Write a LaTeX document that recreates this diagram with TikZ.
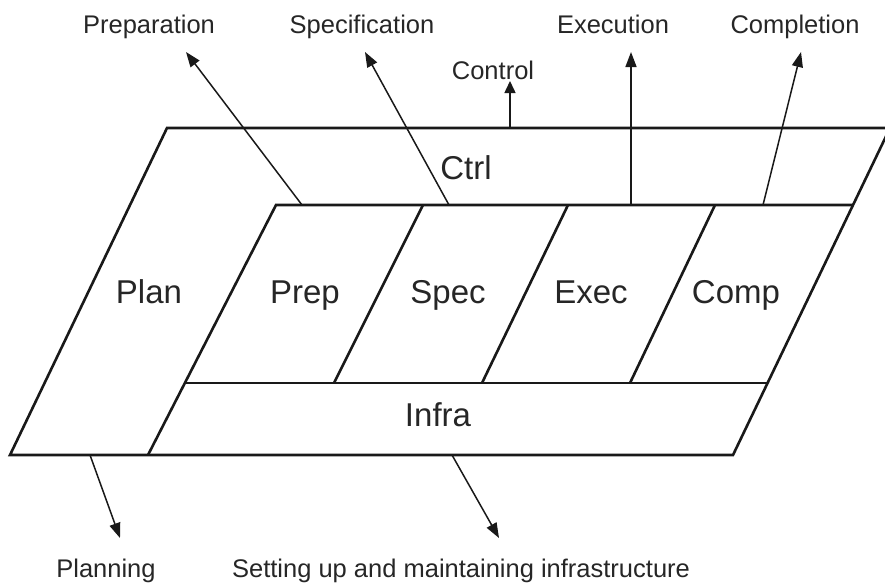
\documentclass[tikz,border=0pt]{standalone}
\usepackage{fontspec}
\setmainfont{Liberation Sans}
\usetikzlibrary{arrows.meta}
\begin{document}
\begin{tikzpicture}[x=1pt,y=-1pt,
  box/.style={line width=2.6pt, draw=black!90, line join=miter},
  lbl/.style={font=\fontsize{25.5}{28}\selectfont, text=black!85, inner sep=0pt, anchor=base},
  big/.style={font=\fontsize{33}{36}\selectfont, text=black!85, inner sep=0pt, anchor=base},
  conn/.style={line width=1.5pt, draw=black!90, -{Triangle[length=15pt,width=11pt]}},
  connsmall/.style={line width=1.5pt, draw=black!90, -{Triangle[length=12pt,width=11pt]}}]
\useasboundingbox (0,0) rectangle (885,584);
\begin{scope}
\clip (0,0) rectangle (885,584);
% outer parallelogram
\draw[box] (10,455) -- (167,128) -- (890,128) -- (733,455) -- cycle;
% inner top edge and plan boundary
\draw[box] (148,455) -- (276,205) -- (853,205);
% infra top edge
\draw[box] (185,383) -- (767,383);
% dividers
\draw[box] (423,205) -- (334,383);
\draw[box] (568,205) -- (482,383);
\draw[box] (715,205) -- (630,383);
\end{scope}

% region labels
\node[big] (ctrl) at (466,179) {Ctrl};
\node[big] (plan) at (149,303) {Plan};
\node[big] (prep) at (305,303) {Prep};
\node[big] (spec) at (448,303) {Spec};
\node[big] (exec) at (591,303) {Exec};
\node[big] (comp) at (736,303) {Comp};
\node[big] (infra) at (438,426) {Infra};

% outer labels
\node[lbl] (preparation) at (149,33) {Preparation};
\node[lbl] (specification) at (362,33) {Specification};
\node[lbl] (execution) at (613,33) {Execution};
\node[lbl] (completion) at (795,33) {Completion};
\node[lbl] (control) at (493,79) {Control};
\node[lbl] (planning) at (106,577) {Planning};
\node[lbl] (setting) at (461,577) {Setting up and maintaining infrastructure};

% connector coordinates
\coordinate (prepS) at (302,205);
\coordinate (prepT) at (186,52);
\coordinate (specS) at (449,205);
\coordinate (specT) at (365,52);
\coordinate (ctrlS) at (510,128);
\coordinate (ctrlT) at (510,81);
\coordinate (execS) at (631,205);
\coordinate (execT) at (631,52);
\coordinate (compS) at (763,205);
\coordinate (compT) at (801,52);
\coordinate (planS) at (90,455);
\coordinate (planT) at (120,538);
\coordinate (infraS) at (452,455);
\coordinate (infraT) at (499,538);

\draw[conn] (prepS) -- (prepT);
\draw[conn] (specS) -- (specT);
\draw[connsmall] (ctrlS) -- (ctrlT);
\draw[conn] (execS) -- (execT);
\draw[conn] (compS) -- (compT);
\draw[conn] (planS) -- (planT);
\draw[conn] (infraS) -- (infraT);
\end{tikzpicture}
\end{document}
